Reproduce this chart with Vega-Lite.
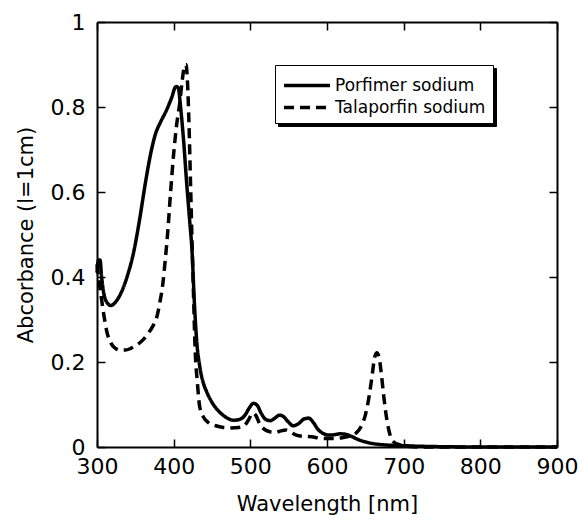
{
  "$schema": "https://vega.github.io/schema/vega-lite/v6.json",
  "width": 460,
  "height": 425,
  "autosize": "none",
  "padding": {"left": 97, "top": 22, "right": 21, "bottom": 76},
  "background": "white",
  "config": {
    "view": {"stroke": null},
    "font": "DejaVu Sans",
    "axis": {
      "grid": false,
      "domainColor": "black",
      "domainWidth": 2,
      "tickColor": "black",
      "tickWidth": 1.5,
      "tickSize": -8,
      "labelFlush": false,
      "labelFont": "DejaVu Sans",
      "labelFontSize": 22,
      "labelColor": "black",
      "titleFont": "DejaVu Sans",
      "titleFontSize": 21,
      "titleFontWeight": "normal",
      "titleColor": "black"
    }
  },
  "data": {
    "values": [
      {"wl": 300, "A": 0.41, "s": "Porfimer sodium"},
      {"wl": 302, "A": 0.44, "s": "Porfimer sodium"},
      {"wl": 304, "A": 0.44, "s": "Porfimer sodium"},
      {"wl": 306, "A": 0.40, "s": "Porfimer sodium"},
      {"wl": 309, "A": 0.36, "s": "Porfimer sodium"},
      {"wl": 313, "A": 0.34, "s": "Porfimer sodium"},
      {"wl": 318, "A": 0.333, "s": "Porfimer sodium"},
      {"wl": 325, "A": 0.343, "s": "Porfimer sodium"},
      {"wl": 332, "A": 0.365, "s": "Porfimer sodium"},
      {"wl": 340, "A": 0.405, "s": "Porfimer sodium"},
      {"wl": 348, "A": 0.46, "s": "Porfimer sodium"},
      {"wl": 356, "A": 0.54, "s": "Porfimer sodium"},
      {"wl": 363, "A": 0.62, "s": "Porfimer sodium"},
      {"wl": 370, "A": 0.69, "s": "Porfimer sodium"},
      {"wl": 376, "A": 0.735, "s": "Porfimer sodium"},
      {"wl": 383, "A": 0.765, "s": "Porfimer sodium"},
      {"wl": 390, "A": 0.79, "s": "Porfimer sodium"},
      {"wl": 397, "A": 0.82, "s": "Porfimer sodium"},
      {"wl": 403, "A": 0.848, "s": "Porfimer sodium"},
      {"wl": 406, "A": 0.845, "s": "Porfimer sodium"},
      {"wl": 409, "A": 0.80, "s": "Porfimer sodium"},
      {"wl": 413, "A": 0.72, "s": "Porfimer sodium"},
      {"wl": 417, "A": 0.62, "s": "Porfimer sodium"},
      {"wl": 421, "A": 0.53, "s": "Porfimer sodium"},
      {"wl": 424, "A": 0.46, "s": "Porfimer sodium"},
      {"wl": 427, "A": 0.34, "s": "Porfimer sodium"},
      {"wl": 430, "A": 0.25, "s": "Porfimer sodium"},
      {"wl": 434, "A": 0.19, "s": "Porfimer sodium"},
      {"wl": 438, "A": 0.155, "s": "Porfimer sodium"},
      {"wl": 443, "A": 0.13, "s": "Porfimer sodium"},
      {"wl": 450, "A": 0.105, "s": "Porfimer sodium"},
      {"wl": 460, "A": 0.082, "s": "Porfimer sodium"},
      {"wl": 470, "A": 0.068, "s": "Porfimer sodium"},
      {"wl": 478, "A": 0.063, "s": "Porfimer sodium"},
      {"wl": 486, "A": 0.065, "s": "Porfimer sodium"},
      {"wl": 493, "A": 0.075, "s": "Porfimer sodium"},
      {"wl": 499, "A": 0.093, "s": "Porfimer sodium"},
      {"wl": 504, "A": 0.103, "s": "Porfimer sodium"},
      {"wl": 509, "A": 0.098, "s": "Porfimer sodium"},
      {"wl": 514, "A": 0.08, "s": "Porfimer sodium"},
      {"wl": 520, "A": 0.065, "s": "Porfimer sodium"},
      {"wl": 526, "A": 0.062, "s": "Porfimer sodium"},
      {"wl": 532, "A": 0.068, "s": "Porfimer sodium"},
      {"wl": 538, "A": 0.075, "s": "Porfimer sodium"},
      {"wl": 543, "A": 0.072, "s": "Porfimer sodium"},
      {"wl": 549, "A": 0.06, "s": "Porfimer sodium"},
      {"wl": 556, "A": 0.05, "s": "Porfimer sodium"},
      {"wl": 563, "A": 0.055, "s": "Porfimer sodium"},
      {"wl": 570, "A": 0.066, "s": "Porfimer sodium"},
      {"wl": 576, "A": 0.068, "s": "Porfimer sodium"},
      {"wl": 582, "A": 0.058, "s": "Porfimer sodium"},
      {"wl": 588, "A": 0.042, "s": "Porfimer sodium"},
      {"wl": 595, "A": 0.032, "s": "Porfimer sodium"},
      {"wl": 602, "A": 0.028, "s": "Porfimer sodium"},
      {"wl": 610, "A": 0.029, "s": "Porfimer sodium"},
      {"wl": 617, "A": 0.031, "s": "Porfimer sodium"},
      {"wl": 624, "A": 0.03, "s": "Porfimer sodium"},
      {"wl": 632, "A": 0.025, "s": "Porfimer sodium"},
      {"wl": 640, "A": 0.018, "s": "Porfimer sodium"},
      {"wl": 650, "A": 0.012, "s": "Porfimer sodium"},
      {"wl": 660, "A": 0.008, "s": "Porfimer sodium"},
      {"wl": 675, "A": 0.005, "s": "Porfimer sodium"},
      {"wl": 700, "A": 0.003, "s": "Porfimer sodium"},
      {"wl": 740, "A": 0.001, "s": "Porfimer sodium"},
      {"wl": 800, "A": 0, "s": "Porfimer sodium"},
      {"wl": 900, "A": 0, "s": "Porfimer sodium"},
      {"wl": 300, "A": 0.43, "s": "Talaporfin sodium"},
      {"wl": 302, "A": 0.40, "s": "Talaporfin sodium"},
      {"wl": 305, "A": 0.36, "s": "Talaporfin sodium"},
      {"wl": 309, "A": 0.31, "s": "Talaporfin sodium"},
      {"wl": 313, "A": 0.27, "s": "Talaporfin sodium"},
      {"wl": 318, "A": 0.245, "s": "Talaporfin sodium"},
      {"wl": 324, "A": 0.232, "s": "Talaporfin sodium"},
      {"wl": 330, "A": 0.228, "s": "Talaporfin sodium"},
      {"wl": 337, "A": 0.228, "s": "Talaporfin sodium"},
      {"wl": 344, "A": 0.232, "s": "Talaporfin sodium"},
      {"wl": 352, "A": 0.24, "s": "Talaporfin sodium"},
      {"wl": 360, "A": 0.252, "s": "Talaporfin sodium"},
      {"wl": 367, "A": 0.268, "s": "Talaporfin sodium"},
      {"wl": 373, "A": 0.285, "s": "Talaporfin sodium"},
      {"wl": 378, "A": 0.306, "s": "Talaporfin sodium"},
      {"wl": 382, "A": 0.34, "s": "Talaporfin sodium"},
      {"wl": 386, "A": 0.386, "s": "Talaporfin sodium"},
      {"wl": 389, "A": 0.44, "s": "Talaporfin sodium"},
      {"wl": 392, "A": 0.50, "s": "Talaporfin sodium"},
      {"wl": 396, "A": 0.60, "s": "Talaporfin sodium"},
      {"wl": 400, "A": 0.69, "s": "Talaporfin sodium"},
      {"wl": 404, "A": 0.76, "s": "Talaporfin sodium"},
      {"wl": 408, "A": 0.81, "s": "Talaporfin sodium"},
      {"wl": 411, "A": 0.86, "s": "Talaporfin sodium"},
      {"wl": 414, "A": 0.895, "s": "Talaporfin sodium"},
      {"wl": 416, "A": 0.90, "s": "Talaporfin sodium"},
      {"wl": 418, "A": 0.86, "s": "Talaporfin sodium"},
      {"wl": 420, "A": 0.76, "s": "Talaporfin sodium"},
      {"wl": 422, "A": 0.62, "s": "Talaporfin sodium"},
      {"wl": 424, "A": 0.48, "s": "Talaporfin sodium"},
      {"wl": 426, "A": 0.35, "s": "Talaporfin sodium"},
      {"wl": 428, "A": 0.23, "s": "Talaporfin sodium"},
      {"wl": 431, "A": 0.15, "s": "Talaporfin sodium"},
      {"wl": 434, "A": 0.094, "s": "Talaporfin sodium"},
      {"wl": 439, "A": 0.07, "s": "Talaporfin sodium"},
      {"wl": 445, "A": 0.058, "s": "Talaporfin sodium"},
      {"wl": 455, "A": 0.05, "s": "Talaporfin sodium"},
      {"wl": 465, "A": 0.046, "s": "Talaporfin sodium"},
      {"wl": 475, "A": 0.045, "s": "Talaporfin sodium"},
      {"wl": 485, "A": 0.046, "s": "Talaporfin sodium"},
      {"wl": 492, "A": 0.05, "s": "Talaporfin sodium"},
      {"wl": 498, "A": 0.065, "s": "Talaporfin sodium"},
      {"wl": 503, "A": 0.08, "s": "Talaporfin sodium"},
      {"wl": 507, "A": 0.075, "s": "Talaporfin sodium"},
      {"wl": 512, "A": 0.055, "s": "Talaporfin sodium"},
      {"wl": 518, "A": 0.042, "s": "Talaporfin sodium"},
      {"wl": 525, "A": 0.036, "s": "Talaporfin sodium"},
      {"wl": 532, "A": 0.034, "s": "Talaporfin sodium"},
      {"wl": 540, "A": 0.038, "s": "Talaporfin sodium"},
      {"wl": 546, "A": 0.04, "s": "Talaporfin sodium"},
      {"wl": 552, "A": 0.035, "s": "Talaporfin sodium"},
      {"wl": 560, "A": 0.028, "s": "Talaporfin sodium"},
      {"wl": 570, "A": 0.025, "s": "Talaporfin sodium"},
      {"wl": 580, "A": 0.024, "s": "Talaporfin sodium"},
      {"wl": 590, "A": 0.021, "s": "Talaporfin sodium"},
      {"wl": 600, "A": 0.02, "s": "Talaporfin sodium"},
      {"wl": 610, "A": 0.02, "s": "Talaporfin sodium"},
      {"wl": 620, "A": 0.022, "s": "Talaporfin sodium"},
      {"wl": 630, "A": 0.026, "s": "Talaporfin sodium"},
      {"wl": 638, "A": 0.033, "s": "Talaporfin sodium"},
      {"wl": 645, "A": 0.05, "s": "Talaporfin sodium"},
      {"wl": 650, "A": 0.075, "s": "Talaporfin sodium"},
      {"wl": 655, "A": 0.12, "s": "Talaporfin sodium"},
      {"wl": 659, "A": 0.17, "s": "Talaporfin sodium"},
      {"wl": 662, "A": 0.21, "s": "Talaporfin sodium"},
      {"wl": 665, "A": 0.222, "s": "Talaporfin sodium"},
      {"wl": 668, "A": 0.21, "s": "Talaporfin sodium"},
      {"wl": 671, "A": 0.17, "s": "Talaporfin sodium"},
      {"wl": 674, "A": 0.12, "s": "Talaporfin sodium"},
      {"wl": 678, "A": 0.065, "s": "Talaporfin sodium"},
      {"wl": 682, "A": 0.03, "s": "Talaporfin sodium"},
      {"wl": 687, "A": 0.012, "s": "Talaporfin sodium"},
      {"wl": 695, "A": 0.005, "s": "Talaporfin sodium"},
      {"wl": 705, "A": 0.002, "s": "Talaporfin sodium"},
      {"wl": 720, "A": 0, "s": "Talaporfin sodium"},
      {"wl": 900, "A": 0, "s": "Talaporfin sodium"}
    ]
  },
  "layer": [
    {
      "mark": {"type": "line", "strokeOpacity": 0, "color": "black"},
      "encoding": {
        "x": {"field": "wl", "type": "quantitative", "scale": {"domain": [300, 900], "nice": false},
              "axis": {"orient": "top", "labels": false, "title": null, "values": [300, 400, 500, 600, 700, 800, 900]}},
        "y": {"field": "A", "type": "quantitative", "scale": {"domain": [0, 1], "nice": false},
              "axis": {"orient": "right", "labels": false, "title": null, "values": [0, 0.2, 0.4, 0.6, 0.8, 1]}},
        "detail": {"field": "s"}
      }
    },
    {
      "mark": {"type": "line", "strokeWidth": 3.5, "interpolate": "monotone"},
      "encoding": {
        "x": {"field": "wl", "type": "quantitative", "scale": {"domain": [300, 900], "nice": false},
              "axis": {"orient": "bottom", "title": "Wavelength [nm]", "values": [300, 400, 500, 600, 700, 800, 900], "labelPadding": 17, "titlePadding": 16}},
        "y": {"field": "A", "type": "quantitative", "scale": {"domain": [0, 1], "nice": false},
              "axis": {"orient": "left", "title": "Abcorbance (l=1cm)", "values": [0, 0.2, 0.4, 0.6, 0.8, 1], "format": "~g", "labelPadding": 20, "titlePadding": 14}},
        "color": {
          "field": "s", "type": "nominal",
          "scale": {"domain": ["Talaporfin sodium", "Porfimer sodium"], "range": ["black", "black"]},
          "legend": {
            "orient": "none", "legendX": 181, "legendY": 46, "title": null, "zindex": 0,
            "strokeColor": "black", "fillColor": "black", "padding": 7,
            "symbolType": "M-1,0H3", "symbolSize": 529, "symbolStrokeWidth": 3.5, "symbolStrokeColor": "black", "symbolFillColor": "transparent",
            "labelExpr": "''", "labelFontSize": 17, "labelFont": "DejaVu Sans", "labelColor": "black", "labelOffset": 177, "rowPadding": 0
          }
        },
        "strokeDash": {
          "field": "s", "type": "nominal",
          "scale": {"domain": ["Porfimer sodium", "Talaporfin sodium"], "range": [[1, 0], [10, 6]]},
          "legend": {
            "orient": "none", "legendX": 178, "legendY": 43, "title": null, "zindex": 1,
            "strokeColor": "black", "fillColor": "white", "padding": 7,
            "symbolType": "M-1,0H3", "symbolSize": 529, "symbolStrokeWidth": 3.5, "symbolStrokeColor": "black", "symbolFillColor": "transparent",
            "labelFontSize": 17, "labelFont": "DejaVu Sans", "labelColor": "black", "labelOffset": 26, "rowPadding": 0
          }
        }
      }
    }
  ],
  "resolve": {"axis": {"x": "independent", "y": "independent"}}
}
